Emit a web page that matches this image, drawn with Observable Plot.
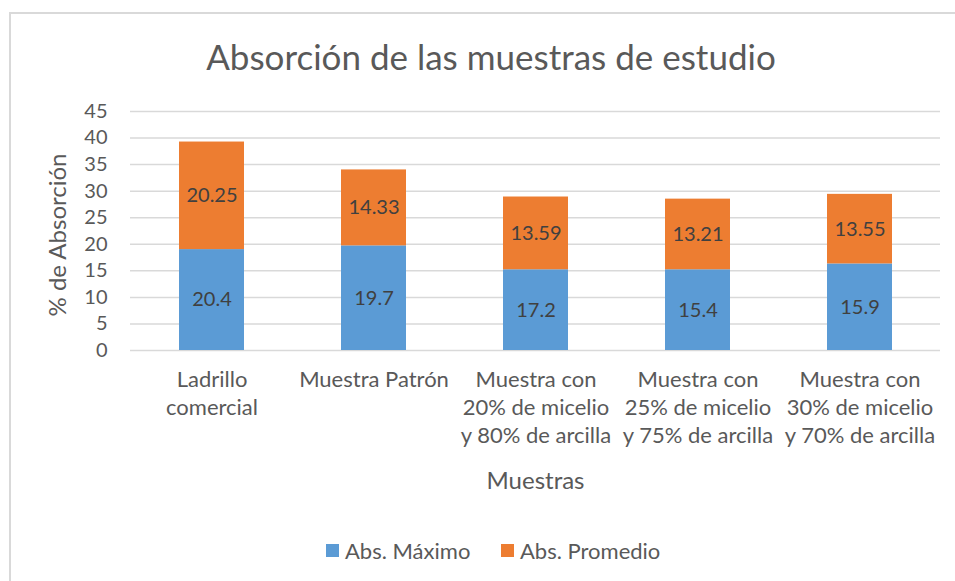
<!DOCTYPE html>
<html>
<head>
<meta charset="utf-8">
<script src="https://cdn.jsdelivr.net/npm/d3@7"></script>
<script src="https://cdn.jsdelivr.net/npm/@observablehq/plot@0.6"></script>
<style>
  html, body { margin: 0; padding: 0; background: #fff; }
  body { width: 955px; height: 581px; overflow: hidden; position: relative; font-family: Lato, "Open Sans", sans-serif; }
  #frame { position: absolute; left: 9px; top: 12px; width: 960px; height: 600px; border-left: 2px solid #d9d9d9; border-top: 2px solid #d9d9d9; }
  #title { position: absolute; left: 0; top: 39px; width: 982px; text-align: center; font-size: 35px; color: #595959; line-height: 1; }
  #chart { position: absolute; left: 0; top: 95px; }
  #legend { position: absolute; top: 537px; left: 0; width: 955px; font-size: 22px; color: #595959; }
  .item { position: absolute; display: flex; align-items: center; }
  .sw { width: 13px; height: 13px; margin-right: 6px; }
</style>
</head>
<body>
<div id="frame"></div>
<div id="title">Absorción de las muestras de estudio</div>
<div id="chart"></div>
<div id="legend"></div>
<script>
const categories = ["Ladrillo comercial", "Muestra Patrón", "Muestra con 20%", "Muestra con 25%", "Muestra con 30%"];
const categoryLabels = ["Ladrillo\ncomercial", "Muestra Patrón", "Muestra con\n20% de micelio\ny 80% de arcilla", "Muestra con\n25% de micelio\ny 75% de arcilla", "Muestra con\n30% de micelio\ny 70% de arcilla"];
const seriesNames = ["Abs. Máximo", "Abs. Promedio"];
const seriesColors = ["#5b9bd5", "#ed7d31"];
// bar heights as drawn in the picture
const maximoBar = [19.0, 19.7, 15.2, 15.2, 16.3];
const promedioBar = [20.25, 14.3, 13.7, 13.3, 13.1];
// data labels as printed
const maximoLabel = ["20.4", "19.7", "17.2", "15.4", "15.9"];
const promedioLabel = ["20.25", "14.33", "13.59", "13.21", "13.55"];
const yTicks = [0, 5, 10, 15, 20, 25, 30, 35, 40, 45];
const yTitle = "% de Absorción";
const xTitle = "Muestras";

const rows = [];
categories.forEach((c, i) => {
  rows.push({cat: c, series: seriesNames[0], value: maximoBar[i], label: maximoLabel[i]});
  rows.push({cat: c, series: seriesNames[1], value: promedioBar[i], label: promedioLabel[i]});
});
const labelOf = new Map(categories.map((c, i) => [c, categoryLabels[i]]));

const chart = Plot.plot({
  width: 955,
  height: 405,
  marginLeft: 130,
  marginRight: 15,
  marginTop: 16,
  marginBottom: 150,
  style: {fontFamily: "Lato, 'Open Sans', sans-serif", fontSize: "18px", color: "#595959", background: "transparent"},
  x: {domain: categories, paddingInner: 0.6, paddingOuter: 0.3},
  y: {domain: [0, 45]},
  color: {domain: seriesNames, range: seriesColors},
  marks: [
    Plot.ruleY(yTicks, {stroke: "#d9d9d9", strokeWidth: 1.5}),
    Plot.barY(rows, Plot.stackY({x: "cat", y: "value", fill: "series", order: seriesNames})),
    Plot.text(rows, Plot.stackY({x: "cat", y: "value", z: "series", order: seriesNames, text: "label", fill: "#404040", fontSize: 20})),
    Plot.axisY({ticks: yTicks, tickSize: 0, tickPadding: 23, tickFormat: d => String(d), fontSize: 20, label: null}),
    Plot.axisX({tickSize: 0, tickPadding: 17, fontSize: 22, lineHeight: 1.27, tickFormat: d => labelOf.get(d), label: null}),
    Plot.text([yTitle], {text: d => d, frameAnchor: "left", textAnchor: "middle", lineAnchor: "middle", rotate: -90, dx: -72, dy: 4, fontSize: 24, fill: "#595959"}),
    Plot.text([xTitle], {text: d => d, frameAnchor: "bottom", textAnchor: "middle", dy: 131, fontSize: 24, fill: "#595959", lineAnchor: "middle"})
  ]
});
document.getElementById("chart").appendChild(chart);

const legend = document.getElementById("legend");
const pos = [326, 501];
seriesNames.forEach((s, i) => {
  const it = document.createElement("div");
  it.className = "item";
  it.style.left = pos[i] + "px";
  it.innerHTML = `<span class="sw" style="background:${seriesColors[i]}"></span><span>${s}</span>`;
  legend.appendChild(it);
});
</script>
</body>
</html>
